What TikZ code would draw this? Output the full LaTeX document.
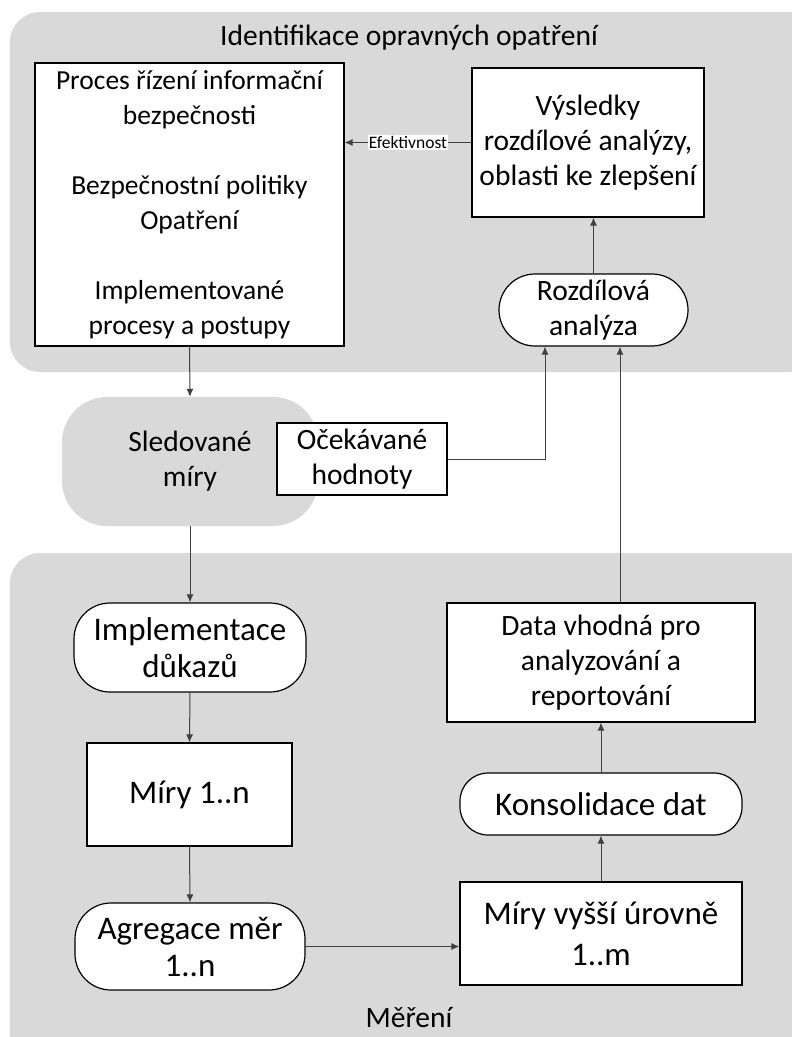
\documentclass[tikz,border=0pt]{standalone}
\usepackage{fontspec}
\setmainfont{Carlito}
\usepackage{tikz}
\usetikzlibrary{arrows.meta}
\definecolor{panelgray}{HTML}{D9D9D9}
\definecolor{linegray}{HTML}{404040}

\begin{document}
\begin{tikzpicture}[x=1pt,y=-1pt,
  panel/.style={fill=panelgray, rounded corners=30pt},
  box/.style={draw, fill=white, line width=1.2pt, inner sep=0pt, align=center, font=\fontsize{29.5}{35}\selectfont},
  stadium/.style={box, rounded corners=36pt},
  big/.style={font=\fontsize{33}{37}\selectfont},
  flow/.style={draw=linegray, line width=1pt, -{Latex[length=8pt,width=7pt]}}]

\useasboundingbox (0,0) rectangle (792,1037);
\fill[panel] (10,12) rectangle (820,372);
\fill[panel] (10,553) rectangle (820,1070);

\node[font=\fontsize{29.5}{35}\selectfont] (toptitle) at (409,38) {Identifikace opravných opatření};
\node[font=\fontsize{29.5}{35}\selectfont] (bottomtitle) at (409,1018) {Měření};

\node[box, minimum width=309pt, minimum height=283pt, font=\fontsize{27.5}{35}\selectfont] (isms) at (189.5,204.5) {Proces řízení informační\\ bezpečnosti\\[35pt] Bezpečnostní politiky\\ Opatření\\[35pt] Implementované\\ procesy a postupy};
\node[box, minimum width=232pt, minimum height=149pt] (gapres) at (588,142.5) {Výsledky\\ rozdílové analýzy,\\ oblasti ke zlepšení};
\node[stadium, minimum width=189pt, minimum height=72pt] (gap) at (593.5,310) {Rozdílová\\ analýza};

\node[fill=panelgray, rounded corners=45pt, minimum width=256pt, minimum height=129pt, inner sep=0pt, align=center, font=\fontsize{29.5}{35}\selectfont] (tracked) at (190,461.5) {Sledované\\ míry};
\node[box, minimum width=170pt, minimum height=72pt] (expected) at (362,459) {Očekávané\\ hodnoty};

\node[stadium, big, minimum width=232pt, minimum height=89pt] (impl) at (190,647.5) {Implementace\\ důkazů};
\node[box, big, minimum width=205pt, minimum height=103pt] (measures) at (189.5,794.5) {Míry 1..n};
\node[stadium, big, minimum width=230pt, minimum height=87pt] (aggr) at (190,946.5) {Agregace měr\\ 1..n};
\node[box, big, minimum width=282pt, minimum height=103pt, font=\fontsize{33}{41}\selectfont] (highm) at (601,933.5) {Míry vyšší úrovně\\ 1..m};
\node[stadium, big, rounded corners=28pt, minimum width=282pt, minimum height=62pt] (consol) at (601,804) {Konsolidace dat};
\node[box, minimum width=308pt, minimum height=119pt] (data) at (601,662.5) {Data vhodná pro\\ analyzování a\\ reportování};

\draw[flow] (gapres.west) -- node[fill=white, inner sep=1pt, font=\fontsize{17.5}{20}\selectfont] {Efektivnost} (gapres.west -| isms.east);
\draw[flow] (gap.north) -- (gap.north |- gapres.south);
\draw[flow] (isms.south) -- (tracked.north);
\draw[flow] (expected.east) -| ([xshift=-48.5pt]gap.south);
\draw[flow] ([xshift=19pt]data.north) -- ([xshift=19pt]data.north |- gap.south);
\draw[flow] (tracked.south) -- (impl.north);
\draw[flow] (impl.south) -- (measures.north);
\draw[flow] (measures.south) -- (aggr.north);
\draw[flow] (aggr.east) -- (aggr.east -| highm.west);
\draw[flow] (highm.north) -- (consol.south);
\draw[flow] (consol.north) -- (data.south);

\end{tikzpicture}
\end{document}
